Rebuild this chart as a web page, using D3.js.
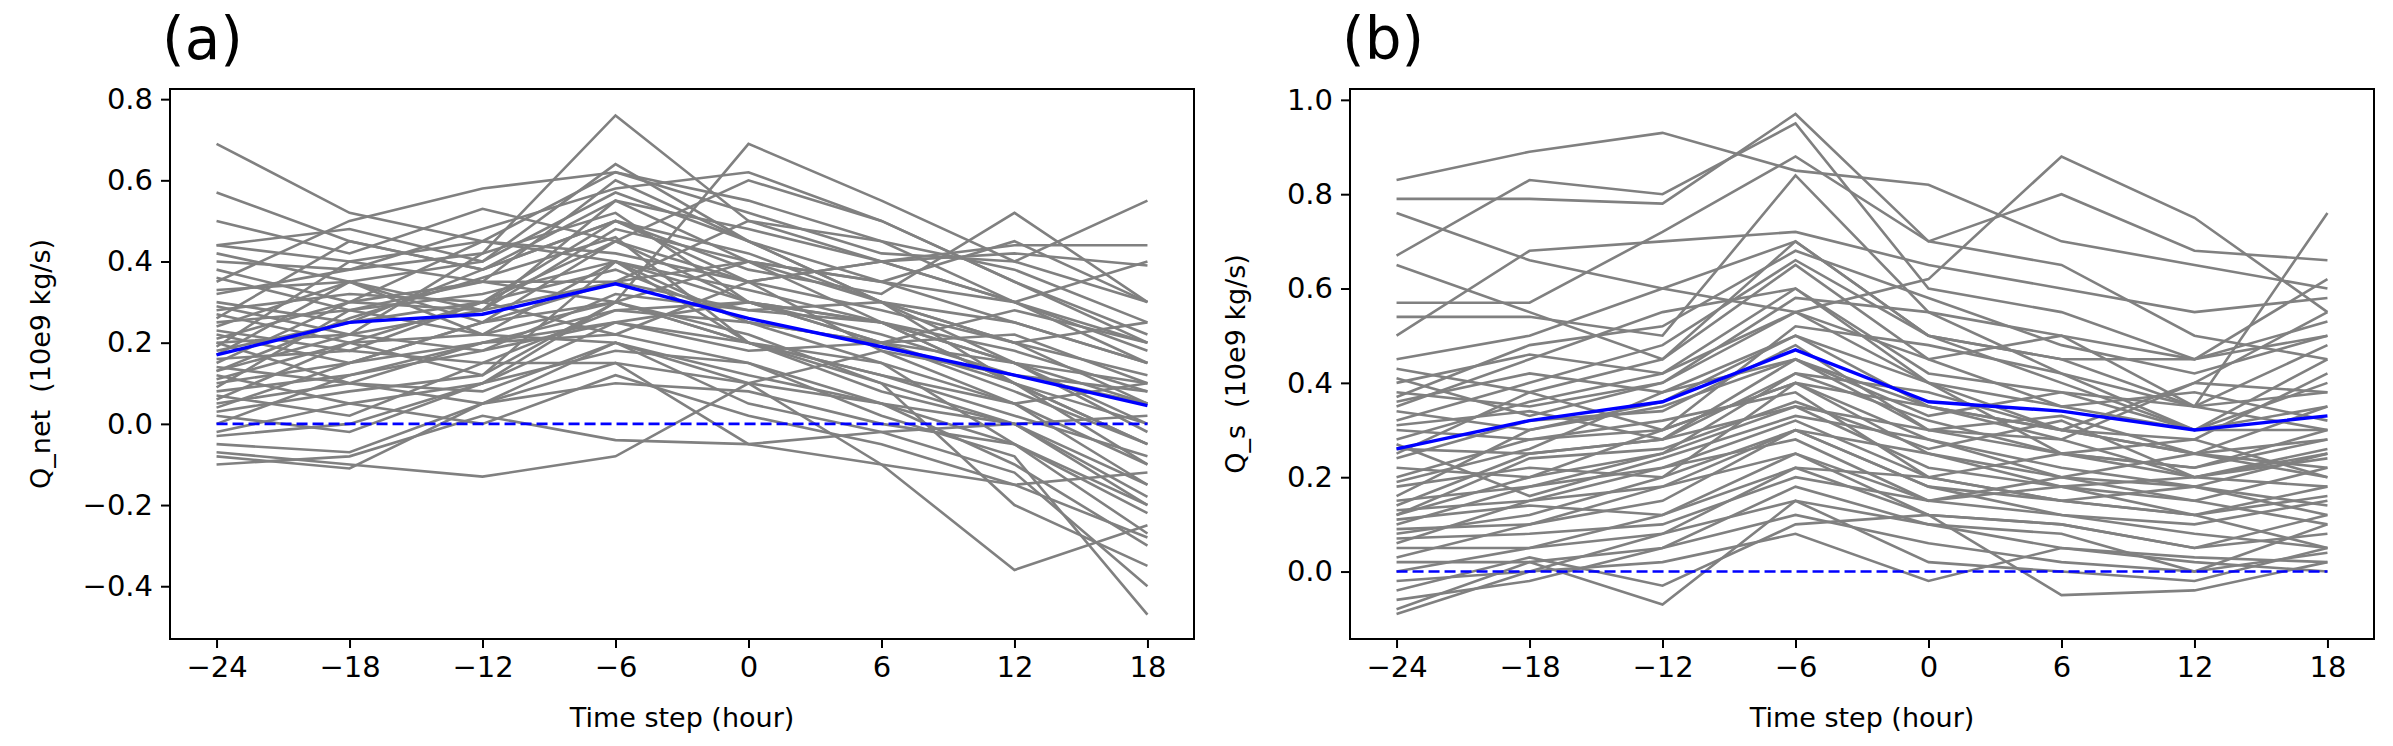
<!DOCTYPE html>
<html><head><meta charset="utf-8">
<script src="https://cdn.jsdelivr.net/npm/d3@7"></script>
<style>body{margin:0;background:#fff}svg{display:block}</style>
</head><body>
<svg id="c" width="2393" height="746"></svg>
<script>
const timeSteps = [-24,-18,-12,-6,0,6,12,18];
const xTicks = [-24,-18,-12,-6,0,6,12,18];
const yTicksA = [-0.4,-0.2,0.0,0.2,0.4,0.6,0.8];
const yTicksB = [0.0,0.2,0.4,0.6,0.8,1.0];
const meanA = [0.17,0.25,0.27,0.345,0.26,0.19,0.12,0.045];
const meanB = [0.26,0.32,0.36,0.47,0.36,0.34,0.30,0.33];
const linesA = [
[0.69,0.52,0.45,0.40,0.33,0.25,0.15,0.10],[0.57,0.45,0.38,0.50,0.42,0.30,0.20,0.05],
[0.50,0.42,0.53,0.45,0.60,0.50,0.35,0.20],[0.44,0.48,0.40,0.64,0.45,0.35,0.25,0.15],
[0.44,0.40,0.35,0.30,0.69,0.55,0.40,0.30],[0.40,0.38,0.42,0.76,0.50,0.40,0.30,0.20],
[0.38,0.30,0.45,0.62,0.52,0.42,0.40,0.55],[0.35,0.50,0.58,0.62,0.55,0.45,0.38,0.25],
[0.33,0.35,0.28,0.55,0.40,0.25,0.10,-0.05],[0.30,0.25,0.38,0.50,0.38,0.32,0.52,0.30],
[0.28,0.32,0.30,0.45,0.35,0.40,0.44,0.44],[0.27,0.20,0.22,0.40,0.30,0.25,0.10,-0.10],
[0.25,0.28,0.35,0.35,0.28,0.30,0.25,0.15],[0.24,0.35,0.40,0.57,0.45,0.30,0.15,0.00],
[0.22,0.15,0.25,0.30,0.20,0.15,0.05,-0.15],[0.21,0.30,0.28,0.48,0.40,0.35,0.30,0.40],
[0.20,0.22,0.18,0.25,0.20,0.10,0.00,-0.20],[0.19,0.40,0.45,0.42,0.35,0.40,0.42,0.39],
[0.18,0.25,0.30,0.38,0.25,0.15,-0.05,-0.27],[0.16,0.18,0.15,0.28,0.30,0.20,0.22,0.10],
[0.15,0.30,0.35,0.60,0.45,0.30,0.10,-0.05],[0.14,0.10,0.20,0.22,0.15,0.05,-0.10,-0.30],
[0.13,0.22,0.28,0.35,0.40,0.30,0.20,0.25],[0.12,0.05,0.10,0.25,0.18,0.20,0.15,0.05],
[0.11,0.20,0.12,0.30,0.22,0.10,-0.20,-0.35],[0.10,0.15,0.25,0.45,0.30,0.20,0.10,0.00],
[0.09,0.28,0.22,0.20,0.12,0.05,-0.05,-0.20],[0.08,0.12,0.18,0.32,0.28,0.25,0.18,0.08],
[0.07,0.02,0.15,0.15,0.10,-0.10,-0.36,-0.25],[0.06,0.20,0.30,0.50,0.35,0.18,0.05,-0.10],
[0.05,0.10,0.08,0.20,0.05,-0.02,-0.12,-0.40],[0.04,0.15,0.20,0.28,0.25,0.20,0.28,0.20],
[0.03,0.08,0.12,0.40,0.20,0.08,0.00,-0.15],[0.02,-0.02,0.10,0.18,0.15,0.02,-0.08,-0.47],
[0.00,0.12,0.20,0.25,0.30,0.25,0.15,-0.02],[-0.02,0.05,0.00,0.12,0.02,-0.05,-0.15,-0.28],
[-0.03,0.00,0.10,0.30,0.20,0.12,0.05,0.10],[-0.05,-0.07,0.05,0.20,0.10,0.05,0.00,-0.18],
[-0.07,-0.10,-0.13,-0.08,0.10,0.18,0.12,0.05],[-0.08,-0.11,0.05,0.15,-0.05,-0.10,-0.15,-0.12],
[-0.10,-0.08,0.02,-0.04,-0.05,-0.02,0.00,0.02],[0.26,0.45,0.38,0.55,0.48,0.40,0.30,0.18],
[0.32,0.38,0.48,0.58,0.62,0.50,0.35,0.22],[0.36,0.28,0.32,0.40,0.25,0.20,0.08,-0.05],
[0.23,0.18,0.30,0.22,0.35,0.28,0.20,0.12],[0.17,0.35,0.22,0.30,0.40,0.35,0.45,0.30],
[0.29,0.22,0.42,0.52,0.30,0.22,0.12,0.08],[0.13,0.26,0.36,0.46,0.20,0.12,0.02,-0.08],
[0.42,0.35,0.25,0.35,0.50,0.45,0.30,0.15],[0.20,0.10,0.05,0.10,0.08,0.00,-0.05,-0.22]
];
const linesB = [
[0.83,0.89,0.93,0.85,0.82,0.70,0.65,0.60],[0.79,0.79,0.78,0.97,0.70,0.80,0.68,0.66],
[0.76,0.66,0.60,0.55,0.62,0.88,0.75,0.55],[0.67,0.83,0.80,0.95,0.60,0.55,0.45,0.50],
[0.65,0.55,0.45,0.70,0.50,0.45,0.35,0.30],[0.57,0.57,0.72,0.88,0.70,0.65,0.50,0.45],
[0.54,0.54,0.50,0.84,0.55,0.42,0.35,0.76],[0.50,0.68,0.70,0.72,0.65,0.60,0.55,0.58],
[0.45,0.50,0.60,0.70,0.50,0.40,0.30,0.40],[0.43,0.38,0.45,0.65,0.45,0.35,0.38,0.32],
[0.40,0.46,0.42,0.60,0.40,0.30,0.25,0.22],[0.38,0.35,0.40,0.55,0.45,0.50,0.35,0.38],
[0.36,0.42,0.38,0.50,0.35,0.28,0.40,0.55],[0.34,0.30,0.35,0.45,0.30,0.25,0.20,0.18],
[0.32,0.40,0.48,0.66,0.50,0.45,0.45,0.53],[0.30,0.28,0.30,0.40,0.28,0.20,0.15,0.10],
[0.28,0.36,0.42,0.55,0.40,0.35,0.30,0.35],[0.26,0.25,0.28,0.35,0.22,0.18,0.12,0.05],
[0.24,0.32,0.34,0.48,0.30,0.33,0.25,0.28],[0.22,0.20,0.25,0.42,0.38,0.30,0.28,0.42],
[0.20,0.28,0.32,0.38,0.20,0.15,0.18,0.25],[0.18,0.22,0.20,0.30,0.18,0.12,0.10,0.15],
[0.16,0.30,0.36,0.50,0.40,0.25,0.22,0.30],[0.15,0.18,0.22,0.28,0.15,0.20,0.25,0.20],
[0.14,0.25,0.28,0.45,0.33,0.38,0.30,0.45],[0.13,0.15,0.18,0.25,0.12,0.10,0.05,0.08],
[0.12,0.20,0.30,0.40,0.25,0.18,0.15,0.22],[0.11,0.14,0.12,0.22,0.20,0.15,0.12,0.18],
[0.10,0.18,0.25,0.35,0.30,0.28,0.20,0.26],[0.09,0.10,0.15,0.30,0.25,0.20,0.18,0.12],
[0.08,0.12,0.20,0.40,0.35,0.30,0.25,0.35],[0.07,0.08,0.10,0.20,0.15,0.12,0.08,0.05],
[0.06,0.15,0.22,0.32,0.20,0.25,0.22,0.28],[0.05,0.05,0.08,0.15,0.10,0.05,0.02,0.00],
[0.03,0.10,0.18,0.30,0.18,0.15,0.12,0.16],[0.02,0.02,0.05,0.12,0.06,0.02,0.00,0.04],
[0.00,0.05,0.12,0.25,0.15,0.18,0.20,0.25],[-0.02,0.00,0.02,0.08,-0.02,0.05,0.03,0.02],
[-0.04,0.03,-0.03,0.10,0.12,-0.05,-0.04,0.02],[-0.06,-0.02,0.05,0.18,0.10,0.08,0.00,0.10],
[-0.08,0.02,-0.07,0.15,0.02,0.00,-0.02,0.05],[-0.09,0.00,0.08,0.22,0.12,0.10,0.05,0.12],
[0.35,0.45,0.55,0.60,0.42,0.38,0.35,0.48],[0.25,0.38,0.30,0.52,0.48,0.42,0.30,0.30],
[0.19,0.26,0.38,0.45,0.35,0.30,0.40,0.38],[0.31,0.34,0.28,0.42,0.32,0.25,0.28,0.20],
[0.41,0.33,0.40,0.58,0.55,0.50,0.45,0.62],[0.27,0.16,0.24,0.33,0.28,0.22,0.18,0.14],
[0.37,0.48,0.52,0.68,0.58,0.48,0.42,0.50],[0.12,0.24,0.26,0.36,0.26,0.32,0.20,0.24]
];

const svg = d3.select('#c');
const font = 'DejaVu Sans, sans-serif';
function panel(opt){
  const {left, top, w, h, lines, mean, yDom, yTicks, yLabel, title} = opt;
  const g = svg.append('g').attr('transform', `translate(${left},${top})`);
  const x = d3.scaleLinear().domain([-26.1, 20.1]).range([0, w]);
  const y = d3.scaleLinear().domain(yDom).range([h, 0]);
  const line = d3.line().x((d,i)=>x(timeSteps[i])).y(d=>y(d));
  g.selectAll('.gl').data(lines).join('path').attr('d', line)
    .attr('fill','none').attr('stroke','#808080').attr('stroke-width',2.6);
  g.append('path').attr('d', line(timeSteps.map(()=>0))).attr('fill','none')
    .attr('stroke','#0000ff').attr('stroke-width',2.6).attr('stroke-dasharray','11,5');
  g.append('path').attr('d', line(mean)).attr('fill','none')
    .attr('stroke','#0000ff').attr('stroke-width',3.4);
  const xa = g.append('g').attr('transform',`translate(0,${h})`)
    .call(d3.axisBottom(x).tickValues(xTicks).tickSize(9).tickPadding(8).tickFormat(d=>d<0?'\u2212'+(-d):d));
  const ya = g.append('g').call(d3.axisLeft(y).tickValues(yTicks).tickSize(9).tickPadding(8)
    .tickFormat(d=>{const s=d3.format('.1f')(Math.abs(d)); return d<0?'\u2212'+s:s;}));
  [xa,ya].forEach(a=>{a.select('.domain').remove(); a.selectAll('line').attr('stroke','#000').attr('stroke-width',2);
    a.selectAll('text').attr('font-family',font).attr('font-size',29).attr('fill','#000');});
  g.append('rect').attr('width',w).attr('height',h).attr('fill','none').attr('stroke','#000').attr('stroke-width',2);
  g.append('text').attr('x',w/2).attr('y',h+88).attr('text-anchor','middle')
    .attr('font-family',font).attr('font-size',27).text('Time step (hour)');
  g.append('text').attr('transform',`translate(${-opt.yLabX},${h/2}) rotate(-90)`).attr('text-anchor','middle')
    .attr('font-family',font).attr('font-size',27).attr('xml:space','preserve').text(yLabel);
  g.append('text').attr('x',-8).attr('y',-30).attr('font-family',font).attr('font-size',58).text(title);
}
panel({left:170, top:89, w:1024, h:550, lines:linesA, mean:meanA, yDom:[-0.53,0.825], yTicks:yTicksA,
  yLabel:'Q_net  (10e9 kg/s)', title:'(a)', yLabX:120});
panel({left:1350, top:89, w:1024, h:550, lines:linesB, mean:meanB, yDom:[-0.143,1.023], yTicks:yTicksB,
  yLabel:'Q_s  (10e9 kg/s)', title:'(b)', yLabX:105});
</script>
</body></html>
